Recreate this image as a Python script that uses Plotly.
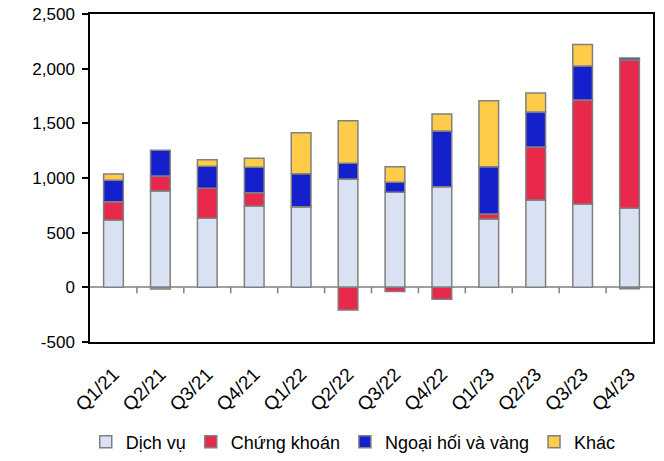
import plotly.graph_objects as go

quarters = ["Q1/21", "Q2/21", "Q3/21", "Q4/21", "Q1/22", "Q2/22", "Q3/22", "Q4/22",
            "Q1/23", "Q2/23", "Q3/23", "Q4/23"]
dich_vu = [616, 881, 631, 744, 737, 991, 869, 920, 625, 799, 762, 723]
chung_khoan = [167, 137, 275, 122, 0, -208, -38, -110, 45, 485, 952, 1356]
ngoai_hoi = [196, 235, 201, 232, 302, 143, 92, 510, 433, 320, 311, 19]
khac = [58, -15, 60, 82, 376, 390, 142, 155, 604, 174, 195, -13]

y_tick_vals = [-500, 0, 500, 1000, 1500, 2000, 2500]
y_tick_text = ["-500", "0", "500", "1,000", "1,500", "2,000", "2,500"]

series = [
    ("Dịch vụ", dich_vu, "#D9E2F3"),
    ("Chứng khoán", chung_khoan, "#E9294B"),
    ("Ngoại hối và vàng", ngoai_hoi, "#1420CC"),
    ("Khác", khac, "#FFCC4A"),
]

fig = go.Figure()
for name, vals, col in series:
    fig.add_trace(go.Bar(
        x=quarters, y=vals, name=name,
        marker=dict(color=col, line=dict(color="#808080", width=1.5)),
    ))

font_family = "Liberation Sans, Arial, sans-serif"

# category boundary tick marks on the zero line
shapes = []
for i in range(len(quarters) - 1):
    shapes.append(dict(type="line", xref="x", yref="y",
                       x0=i + 0.5, x1=i + 0.5, y0=0, y1=-55,
                       line=dict(color="#808080", width=1.5)))

fig.update_layout(
    width=664, height=461,
    margin=dict(l=90, r=11, t=14, b=119, autoexpand=False),
    barmode="relative",
    bargap=0.58,
    plot_bgcolor="white", paper_bgcolor="white",
    font=dict(family=font_family, size=18, color="black"),
    shapes=shapes,
    legend=dict(orientation="h", xref="container", yref="container",
                x=0.532, xanchor="center", y=0.041, yanchor="middle",
                font=dict(size=18), traceorder="normal", itemwidth=30,
                bgcolor="rgba(0,0,0,0)"),
    xaxis=dict(
        automargin=False,
        showline=True, linecolor="black", linewidth=1.5, mirror=True,
        ticks="", tickangle=-45, tickfont=dict(size=19), showgrid=False,
        ticklabelstandoff=12,
    ),
    yaxis=dict(
        automargin=False,
        range=[-500, 2500], tickvals=y_tick_vals, ticktext=y_tick_text,
        showline=True, linecolor="black", linewidth=1.5, mirror=True,
        ticks="outside", ticklen=6, tickcolor="black", tickwidth=1.5,
        showgrid=False, zeroline=True, zerolinecolor="#A0A0A0", zerolinewidth=1.5,
        tickfont=dict(size=17), ticklabelstandoff=4,
    ),
)

fig.write_html(
    "out.html",
    config={"displayModeBar": False},
    post_script="document.body.style.margin='0';document.body.style.padding='0';"
                "document.body.style.overflow='hidden';",
)
